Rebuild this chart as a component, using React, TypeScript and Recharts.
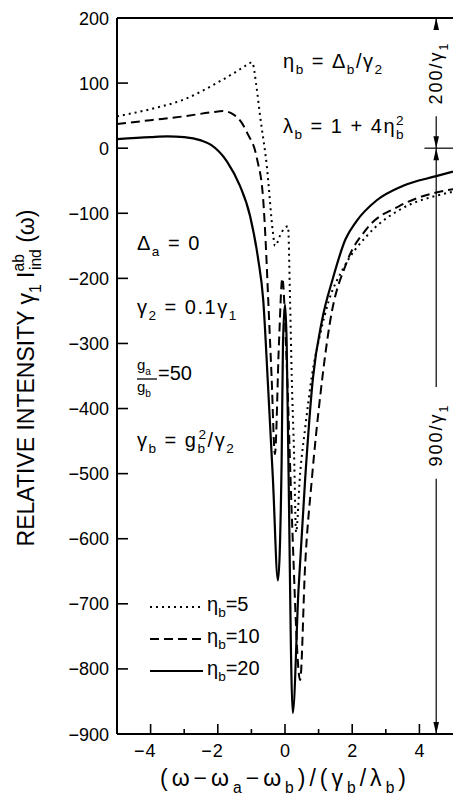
import React from 'react';
import { LineChart, Line, XAxis, YAxis, ReferenceLine } from 'recharts';

// curve data: x = (ω-ωa-ωb)/(γb/λb), y = γ1 I_ind^ab(ω)
const eta5X = [-5, -4, -3, -2, -1.5, -1.13, -0.98, -0.85, -0.74, -0.54, -0.36, -0.3, -0.1, 0.09, 0.15, 0.2, 0.27, 0.33, 0.45, 0.6, 0.8, 1.05, 1.3, 1.72, 2.43, 3.4, 4.5, 5];
const eta5Y = [49, 60, 75, 101, 116, 128, 132, 95, 49, -28, -129, -150, -129, -120, -232, -350, -470, -590, -500, -430, -350, -285, -235, -186, -135, -95, -73, -67];

const eta10X = [-5, -4, -3, -2.2, -1.84, -1.54, -1.3, -1.13, -0.83, -0.65, -0.57, -0.5, -0.4, -0.3, -0.18, -0.08, 0.05, 0.2, 0.45, 0.6, 0.8, 1.05, 1.34, 1.84, 2.43, 3.4, 4.5, 5];
const eta10Y = [37, 43, 49, 55, 57, 52, 40, 24, -17, -78, -150, -232, -350, -470, -300, -200, -330, -560, -817, -640, -508, -380, -267, -175, -124, -89, -68, -63];

const eta20X = [-5, -4, -3.5, -3, -2.5, -2.2, -1.72, -1.34, -1.04, -0.8, -0.65, -0.5, -0.36, -0.21, -0.1, -0.06, 0, 0.05, 0.1, 0.23, 0.4, 0.6, 0.83, 1.1, 1.42, 1.8, 2.13, 2.73, 3.5, 4.5, 5];
const eta20Y = [14, 17, 18, 17, 12, 5, -21, -58, -104, -170, -232, -370, -508, -664, -480, -300, -240, -300, -477, -868, -680, -508, -354, -265, -201, -140, -112, -80, -58, -43, -36];

const yTicks = [200, 100, 0, -100, -200, -300, -400, -500, -600, -700, -800, -900];
const xTicks = [-4, -3, -2, -1, 0, 1, 2, 3, 4];

const toPoints = (xs: number[], ys: number[]) => xs.map((x, i) => ({ x, y: ys[i] }));

const FONT = '"Liberation Sans", Arial, Helvetica, sans-serif';

type Seg = { t: string; s?: 'sub' | 'sup'; dx?: number };

// text with sub/superscripts done through tspan dy offsets
const Rich = ({ x, y, segs, size = 20, anchor = 'start', spacing = 0, transform }: any) => {
  let off = 0;
  return (
    <text x={x} y={y} fontSize={size} fontFamily={FONT} textAnchor={anchor} letterSpacing={spacing} transform={transform} fill="#000">
      {(segs as Seg[]).map((sg, i) => {
        const target = sg.s === 'sub' ? size * 0.32 : sg.s === 'sup' ? -size * 0.42 : 0;
        const dy = target - off;
        off = target;
        return (
          <tspan key={i} dy={dy} dx={sg.dx} fontSize={sg.s ? size * 0.68 : size}>
            {sg.t}
          </tspan>
        );
      })}
    </text>
  );
};

const minus = (v: number) => (v < 0 ? '\u2212' + Math.abs(v) : String(v));

const YTick = (props: any) => {
  const { x, y, payload } = props;
  return (
    <g>
      <line x1={x} y1={y} x2={x + 11} y2={y} stroke="#000" strokeWidth={1.6} />
      <text x={x - 8} y={y + 6.5} textAnchor="end" fontSize={18} fontFamily={FONT} fill="#000">
        {minus(payload.value)}
      </text>
    </g>
  );
};

const XTick = (props: any) => {
  const { x, y, payload } = props;
  const v = payload.value;
  const major = v % 2 === 0;
  return (
    <g>
      <line x1={x} y1={y} x2={x} y2={y - (major ? 10 : 5)} stroke="#000" strokeWidth={1.6} />
      {major && (
        <text x={x} y={y + 23} textAnchor="middle" fontSize={18} fontFamily={FONT} fill="#000">
          {Math.abs(v)}
        </text>
      )}
      {major && v < 0 && (
        <text x={x - 6} y={y + 23} textAnchor="end" fontSize={18} fontFamily={FONT} fill="#000">
          {'\u2212'}
        </text>
      )}
    </g>
  );
};

// vertical dimension line with an arrow head at one end
const arrowShape = (headAt: 'start' | 'end') => (p: any) => {
  const { x1, y1, x2, y2 } = p;
  const hx = headAt === 'start' ? x1 : x2;
  const hy = headAt === 'start' ? y1 : y2;
  const ty = headAt === 'start' ? y2 : y1;
  const dir = Math.sign(ty - hy);
  return (
    <g>
      <line x1={x1} y1={y1} x2={x2} y2={y2} stroke="#000" strokeWidth={1.2} />
      <polygon points={`${hx},${hy} ${hx - 2.8},${hy + dir * 12} ${hx + 2.8},${hy + dir * 12}`} fill="#000" />
    </g>
  );
};

const App: React.FC = () => {
  return (
    <div style={{ position: 'absolute', left: 0, top: 0, width: 453, height: 798, overflow: 'hidden', background: '#fff' }}>
      <LineChart width={453} height={798} margin={{ top: 18, right: 0, bottom: 0, left: 0 }}>
        <XAxis
          type="number"
          dataKey="x"
          domain={[-5, 5]}
          ticks={xTicks}
          interval={0}
          height={64}
          tickSize={0}
          tickMargin={0}
          tick={<XTick />}
          axisLine={{ stroke: '#000', strokeWidth: 2 }}
          allowDataOverflow
        />
        <YAxis
          type="number"
          dataKey="y"
          domain={[-900, 200]}
          ticks={yTicks}
          interval={0}
          width={117}
          tickSize={0}
          tickMargin={0}
          tick={<YTick />}
          axisLine={{ stroke: '#000', strokeWidth: 2 }}
          allowDataOverflow
        />
        <ReferenceLine y={200} stroke="#000" strokeWidth={2} />
        <ReferenceLine segment={[{ x: 4.5, y: 200 }, { x: 4.5, y: 182 }]} shape={arrowShape('start')} />
        <ReferenceLine segment={[{ x: 4.5, y: 49 }, { x: 4.5, y: 0 }]} shape={arrowShape('end')} />
        <ReferenceLine segment={[{ x: 4.15, y: 0 }, { x: 5, y: 0 }]} stroke="#000" strokeWidth={1.2} />
        <ReferenceLine segment={[{ x: 4.5, y: 0 }, { x: 4.5, y: -367 }]} shape={arrowShape('start')} />
        <ReferenceLine segment={[{ x: 4.5, y: -508 }, { x: 4.5, y: -900 }]} shape={arrowShape('end')} />
        <Line data={toPoints(eta5X, eta5Y)} dataKey="y" type="monotone" stroke="#000" strokeWidth={2} strokeDasharray="2 4" dot={false} isAnimationActive={false} />
        <Line data={toPoints(eta10X, eta10Y)} dataKey="y" type="monotone" stroke="#000" strokeWidth={2} strokeDasharray="9 5" dot={false} isAnimationActive={false} />
        <Line data={toPoints(eta20X, eta20Y)} dataKey="y" type="monotone" stroke="#000" strokeWidth={2.2} dot={false} isAnimationActive={false} />
      </LineChart>

      {/* labels and annotations */}
      <svg width={453} height={798} style={{ position: 'absolute', left: 0, top: 0, pointerEvents: 'none' }}>
        <Rich
          x={34}
          y={378}
          size={23}
          anchor="middle"
          transform="rotate(-90 34 378)"
          segs={[
            { t: 'RELATIVE INTENSITY  \u03b3' },
            { t: '1', s: 'sub' },
            { t: ' I' },
            { t: 'ab', s: 'sup' },
            { t: 'ind', s: 'sub', dx: -16 },
            { t: ' (\u03c9)' },
          ]}
        />
        <Rich
          x={285}
          y={786}
          size={23}
          anchor="middle"
          spacing={4}
          segs={[
            { t: '(\u03c9\u2212\u03c9' },
            { t: 'a', s: 'sub' },
            { t: '\u2212\u03c9' },
            { t: 'b', s: 'sub' },
            { t: ')/(\u03b3' },
            { t: 'b', s: 'sub' },
            { t: '/\u03bb' },
            { t: 'b', s: 'sub' },
            { t: ')' },
          ]}
        />
        <Rich x={283} y={68} spacing={1.5} segs={[{ t: '\u03b7' }, { t: 'b', s: 'sub' }, { t: ' = \u0394' }, { t: 'b', s: 'sub' }, { t: '/\u03b3' }, { t: '2', s: 'sub' }]} />
        <Rich x={283} y={133} spacing={1.5} segs={[{ t: '\u03bb' }, { t: 'b', s: 'sub' }, { t: ' = 1 + 4\u03b7' }, { t: 'b', s: 'sub' }, { t: '2', s: 'sup', dx: -9 }]} />
        <Rich x={137} y={250} spacing={1.5} segs={[{ t: '\u0394' }, { t: 'a', s: 'sub' }, { t: ' = 0' }]} />
        <Rich x={137} y={314} spacing={1.5} segs={[{ t: '\u03b3' }, { t: '2', s: 'sub' }, { t: ' = 0.1\u03b3' }, { t: '1', s: 'sub' }]} />
        <Rich x={137} y={370} size={15} segs={[{ t: 'g' }, { t: 'a', s: 'sub' }]} />
        <line x1={137} y1={379} x2={157} y2={379} stroke="#000" strokeWidth={1.3} />
        <Rich x={137} y={392} size={15} segs={[{ t: 'g' }, { t: 'b', s: 'sub' }]} />
        <Rich x={158} y={380} segs={[{ t: '=50' }]} />
        <Rich x={137} y={447} spacing={1.5} segs={[{ t: '\u03b3' }, { t: 'b', s: 'sub' }, { t: ' = g' }, { t: 'b', s: 'sub' }, { t: '2', s: 'sup', dx: -8 }, { t: '/\u03b3' }, { t: '2', s: 'sub' }]} />

        {/* legend */}
        <line x1={150} y1={607} x2={204} y2={607} stroke="#000" strokeWidth={2} strokeDasharray="2 4" />
        <line x1={150} y1={639} x2={201} y2={639} stroke="#000" strokeWidth={2} strokeDasharray="9 5" />
        <line x1={150} y1={671} x2={203} y2={671} stroke="#000" strokeWidth={2} />
        <Rich x={207} y={611} segs={[{ t: '\u03b7' }, { t: 'b', s: 'sub' }, { t: '=5' }]} />
        <Rich x={207} y={643} segs={[{ t: '\u03b7' }, { t: 'b', s: 'sub' }, { t: '=10' }]} />
        <Rich x={207} y={675} segs={[{ t: '\u03b7' }, { t: 'b', s: 'sub' }, { t: '=20' }]} />

        {/* dimension labels */}
        <Rich x={442} y={73} size={18} anchor="middle" spacing={2} transform="rotate(-90 442 73)" segs={[{ t: '200/\u03b3' }, { t: '1', s: 'sub' }]} />
        <Rich x={442} y={435} size={18} anchor="middle" spacing={2} transform="rotate(-90 442 435)" segs={[{ t: '900/\u03b3' }, { t: '1', s: 'sub' }]} />
      </svg>
    </div>
  );
};

export default App;
